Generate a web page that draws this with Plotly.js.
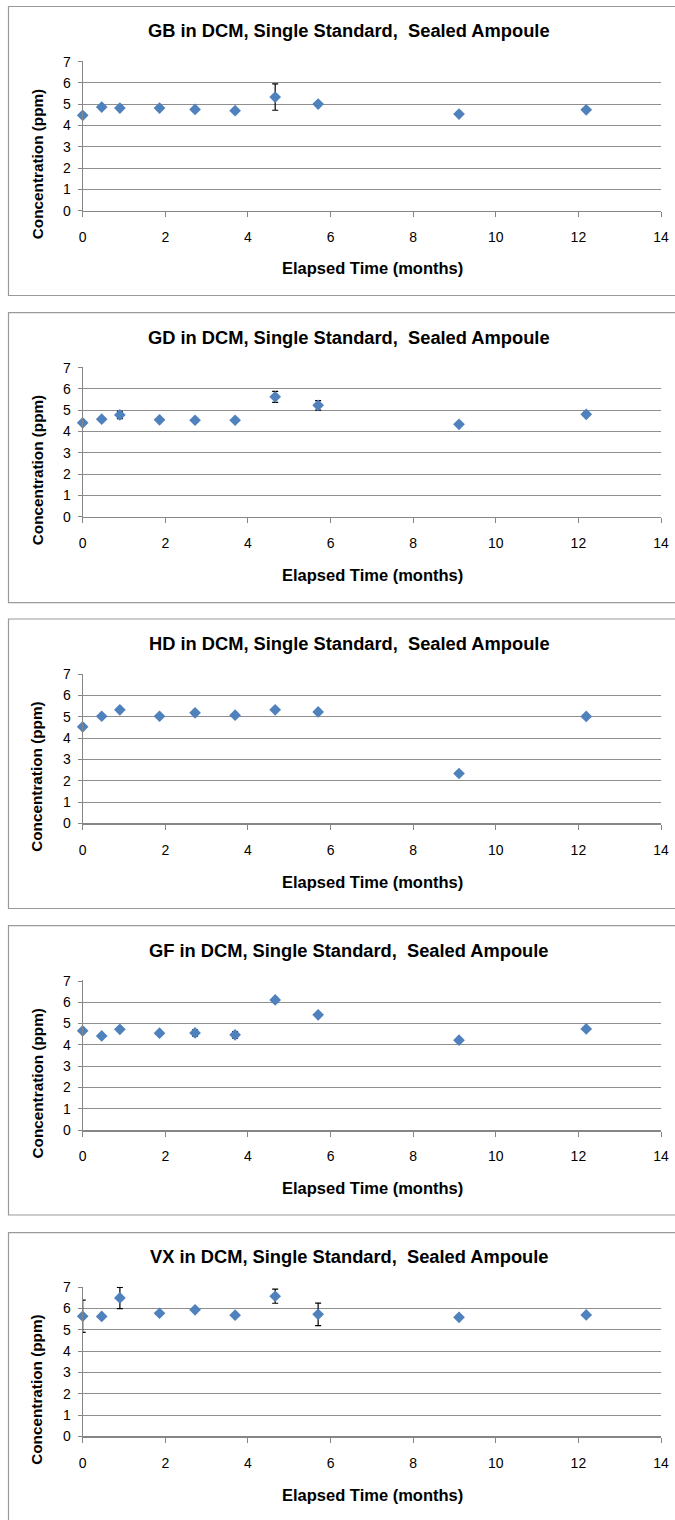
<!DOCTYPE html>
<html>
<head>
<meta charset="utf-8">
<script src="https://cdn.plot.ly/plotly-3.0.1.min.js"></script>
<style>html,body{margin:0;padding:0;background:#fff;}#chart{width:675px;height:1520px;}</style>
</head>
<body>
<div id="chart"></div>
<script>
// ---- data ----
const months = [0, 0.46, 0.9, 1.86, 2.72, 3.69, 4.66, 5.7, 9.11, 12.19];
const agents = ["GB", "GD", "HD", "GF", "VX"];
const gbConc = [4.48, 4.87, 4.82, 4.82, 4.76, 4.70, 5.34, 5.01, 4.54, 4.74];
const gbErr  = [0, 0, 0, 0, 0, 0, 0.62, 0, 0, 0];
const gdConc = [4.41, 4.58, 4.78, 4.55, 4.53, 4.53, 5.63, 5.23, 4.34, 4.81];
const gdErr  = [0, 0, 0.17, 0, 0.05, 0.05, 0.26, 0.22, 0, 0.1];
const hdConc = [4.53, 5.03, 5.33, 5.03, 5.19, 5.08, 5.33, 5.23, 2.34, 5.02];
const hdErr  = [0, 0, 0, 0, 0, 0, 0, 0, 0, 0];
const gfConc = [4.66, 4.42, 4.73, 4.55, 4.56, 4.47, 6.11, 5.41, 4.22, 4.75];
const gfErr  = [0, 0, 0, 0, 0.15, 0.15, 0.1, 0, 0, 0];
const vxConc = [5.64, 5.63, 6.50, 5.78, 5.94, 5.69, 6.58, 5.73, 5.59, 5.70];
const vxErr  = [0.76, 0, 0.5, 0, 0, 0, 0.33, 0.53, 0, 0];
const xTickVals = [0, 2, 4, 6, 8, 10, 12, 14];
const yTickVals = [0, 1, 2, 3, 4, 5, 6, 7];
const titleSuffix = " in DCM, Single Standard,&nbsp; Sealed Ampoule";
const xTitle = "Elapsed Time (months)";
const yTitle = "Concentration (ppm)";

const concs = [gbConc, gdConc, hdConc, gfConc, vxConc];
const errs = [gbErr, gdErr, hdErr, gfErr, vxErr];

// ---- layout geometry (pixels) ----
const W = 675, H = 1520;
const plotLeft = 82.7, plotRight = 661;
const plotTops = [61.7, 367.7, 674.3, 981, 1287.3];
const plotH = 149;
const yMax = 7.03;
const extra = plotH * (yMax - 7) / 7;
const boxTops = [6.5, 312.7, 619, 925.7, 1232.7];
const boxBottoms = [295.5, 602.7, 908.5, 1215, 1530];
const titleYs = [30.7, 337, 643.3, 950, 1256.7];
const xTitleYs = [268.5, 575, 881.7, 1188.3, 1495];
const yTitleOff = 102.5;

const px = v => v / W;
const py = v => 1 - v / H;

const FONT = "Liberation Sans, Arial, sans-serif";
const grid = "#8f8f8f";

const traces = [];
const layout = {
  width: W, height: H,
  margin: {l: 0, r: 0, t: 0, b: 0},
  paper_bgcolor: "#fff", plot_bgcolor: "#fff",
  showlegend: false,
  annotations: [], shapes: []
};

for (let i = 0; i < 5; i++) {
  const n = i === 0 ? "" : String(i + 1);
  traces.push({
    type: "scatter", mode: "markers",
    x: months, y: concs[i],
    xaxis: "x" + n, yaxis: "y" + n,
    marker: {symbol: "diamond", size: 9, color: "#4F81BD"},
    error_y: {type: "data", array: errs[i], visible: true, color: "#000", thickness: 1.2, width: 3},
    cliponaxis: false, hoverinfo: "x+y"
  });
  const top = plotTops[i], bot = top + plotH;
  layout["xaxis" + n] = {
    domain: [px(plotLeft), px(plotRight)],
    anchor: "y" + n, range: [0, 14], tickvals: xTickVals,
    showgrid: false, zeroline: false,
    showline: true, linecolor: "#868686", linewidth: 1.5,
    ticks: "outside", ticklen: 5, tickcolor: "#868686", tickwidth: 1,
    ticklabelstandoff: 8,
    tickfont: {family: FONT, size: 14, color: "#000"}, fixedrange: true
  };
  layout["yaxis" + n] = {
    domain: [py(bot), py(top - extra)],
    anchor: "x" + n, range: [0, yMax], tickvals: yTickVals,
    showgrid: true, gridcolor: grid, gridwidth: 1, zeroline: false,
    showline: true, linecolor: "#868686", linewidth: 1.2,
    ticks: "outside", ticklen: 4, tickcolor: "#868686",
    ticklabelstandoff: 4,
    tickfont: {family: FONT, size: 14, color: "#000"}, fixedrange: true
  };
  layout.shapes.push({
    type: "rect", xref: "paper", yref: "paper",
    x0: px(8.5), x1: px(700), y0: py(boxBottoms[i]), y1: py(boxTops[i]),
    line: {color: "#9a9a9a", width: 1.2}, fillcolor: "rgba(0,0,0,0)", layer: "below"
  });
  layout.annotations.push({
    xref: "paper", yref: "paper", x: px(349), y: py(titleYs[i]),
    xanchor: "center", yanchor: "middle", showarrow: false,
    text: "<b>" + agents[i] + titleSuffix + "</b>",
    font: {family: FONT, size: 18.3, color: "#000"}
  });
  layout.annotations.push({
    xref: "paper", yref: "paper", x: px(372), y: py(xTitleYs[i]),
    xanchor: "center", yanchor: "middle", showarrow: false,
    text: "<b>" + xTitle + "</b>",
    font: {family: FONT, size: 16.5, color: "#000"}
  });
  layout.annotations.push({
    xref: "paper", yref: "paper", x: px(37), y: py(top + yTitleOff),
    xanchor: "center", yanchor: "middle", showarrow: false, textangle: -90,
    text: "<b>" + yTitle + "</b>",
    font: {family: FONT, size: 15.3, color: "#000"}
  });
}

Plotly.newPlot("chart", traces, layout, {staticPlot: true, displayModeBar: false});
</script>
</body>
</html>
